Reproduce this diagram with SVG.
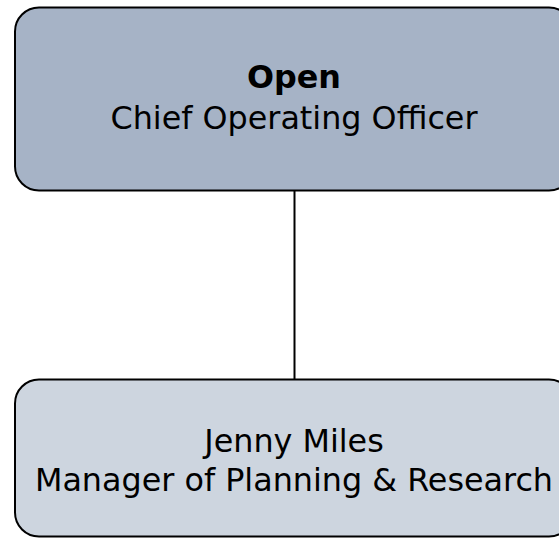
<svg xmlns="http://www.w3.org/2000/svg" width="559" height="539" viewBox="0 0 559 539">
<style>
.box{stroke:#000;stroke-width:2}
.t{font-family:"DejaVu Sans",Verdana,sans-serif;font-size:31.8px;fill:#000;text-anchor:middle}
.b{font-weight:bold}
</style>
<rect width="559" height="539" fill="#fff"/>
<g id="connectors">
<line x1="294.5" y1="190.5" x2="294.5" y2="379.5" stroke="#000" stroke-width="2"/>
</g>
<g id="node-coo">
<rect class="box" x="15" y="7.5" width="558" height="183" rx="24" ry="24" fill="#a6b3c6"/>
<text class="t b" x="294" y="88">Open</text>
<text class="t" x="294" y="129">Chief Operating Officer</text>
</g>
<g id="node-manager">
<rect class="box" x="15" y="379.5" width="558" height="157" rx="24" ry="24" fill="#cdd5df"/>
<text class="t" x="294" y="452">Jenny Miles</text>
<text class="t" x="294" y="491">Manager of Planning &amp; Research</text>
</g>
</svg>
